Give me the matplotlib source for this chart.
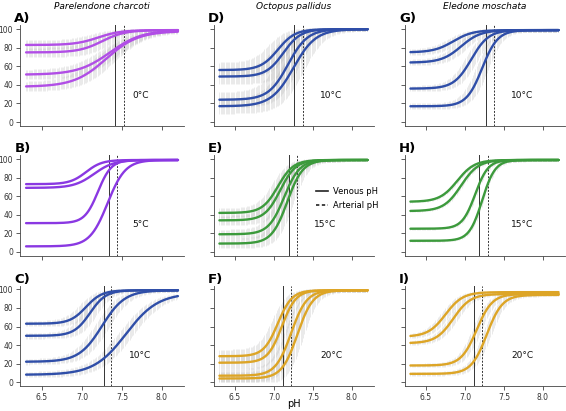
import numpy as np
import matplotlib
matplotlib.use("Agg")
import matplotlib.pyplot as plt
from matplotlib.lines import Line2D

# layout: columns = species, rows = temperatures
species = ["Parelendone charcoti", "Octopus pallidus", "Eledone moschata"]
letters = [["A", "B", "C"], ["D", "E", "F"], ["G", "H", "I"]]
temps = [["0°C", "5°C", "10°C"], ["10°C", "15°C", "20°C"], ["10°C", "15°C", "20°C"]]
venous_ph = [[7.41, 7.34, 7.275], [7.26, 7.19, 7.11], [7.27, 7.18, 7.11]]
arterial_ph = [[7.52, 7.44, 7.36], [7.375, 7.30, 7.22], [7.375, 7.295, 7.22]]

colors = {"A": "#B14EE6", "B": "#8A38E2", "C": "#2F4EA8",
          "D": "#2F4EA8", "E": "#3C9A3C", "F": "#DDA526",
          "G": "#2F4EA8", "H": "#3C9A3C", "I": "#DDA526"}

# fitted curve parameters (4 curves per panel)
low = {"A": [83, 75, 51, 38], "B": [73, 69, 31, 6], "C": [63, 50, 22, 8],
       "D": [56, 49, 24, 17], "E": [42, 34, 19, 9], "F": [28, 21, 7, 4],
       "G": [75, 64, 36, 17], "H": [54, 44, 25, 12], "I": [49, 42, 18, 9]}
mid = {"A": [7.2, 7.25, 7.35, 7.3], "B": [7.05, 7.15, 7.2, 7.32],
       "C": [7.05, 7.1, 7.25, 7.55], "D": [7.05, 7.12, 7.18, 7.25],
       "E": [7.05, 7.08, 7.13, 7.17], "F": [7.05, 7.1, 7.22, 7.3],
       "G": [6.85, 6.95, 7.08, 7.22], "H": [6.9, 6.95, 7.13, 7.22],
       "I": [6.75, 6.85, 7.15, 7.28]}
slope = {"A": [7, 7, 5, 5], "B": [10, 8, 12, 9], "C": [10, 10, 7, 5],
         "D": [9, 9, 8, 7], "E": [10, 10, 10, 10], "F": [11, 11, 10, 10],
         "G": [8, 8, 9, 10], "H": [9, 9, 12, 12], "I": [9, 9, 10, 10]}
top = {"A": [99, 99, 99, 98], "B": [99, 99, 99, 99], "C": [99, 99, 99, 96],
       "D": [100, 100, 100, 100], "E": [99, 99, 99, 99], "F": [99, 99, 99, 99],
       "G": [99, 99, 99, 99], "H": [99, 99, 99, 99], "I": [97, 95, 95, 94]}
# width of the grey uncertainty bands (pH shift, % at baseline)
band_shift = {"A": 0.1, "B": 0.0, "C": 0.08, "D": 0.12, "E": 0.07,
              "F": 0.07, "G": 0.07, "H": 0.015, "I": 0.05}
band_low = {"A": 5, "B": 0, "C": 3, "D": 8, "E": 5, "F": 7, "G": 3, "H": 1, "I": 2}


def sigmoid(x, lo, m, k, hi):
    return lo + (hi - lo) / (1 + np.exp(-k * (x - m)))


ph = np.linspace(6.3, 8.2, 300)
band_ph = np.arange(6.3, 8.2001, 0.016)

fig = plt.figure(figsize=(5.66, 4.11), dpi=100)
lefts = [20 / 566, 213.5 / 566, 404.5 / 566]
widths = [164 / 566, 160 / 566, 160 / 566]
bottoms = [0.694, 0.378, 0.061]
height = 0.244

for c in range(3):
    for r in range(3):
        L = letters[c][r]
        ax = fig.add_axes([lefts[c], bottoms[r], widths[c], height])
        col = colors[L]
        for i in range(4):
            lo, m, k, hi = low[L][i], mid[L][i], slope[L][i], top[L][i]
            if band_shift[L] > 0:
                y1 = sigmoid(band_ph, lo - band_low[L], m + band_shift[L], k, hi - 1.5)
                y2 = np.minimum(sigmoid(band_ph, lo + band_low[L], m - band_shift[L], k, hi + 1.5), 101)
                ax.vlines(band_ph, np.maximum(y1, 0), y2, color="#b0b0b0",
                          lw=0.6, alpha=0.3, zorder=1)
            ax.plot(ph, sigmoid(ph, lo, m, k, hi), color=col, lw=1.7,
                    solid_capstyle="round", zorder=3)
        ax.axvline(venous_ph[c][r], color="#333333", lw=0.7, zorder=2)
        ax.axvline(arterial_ph[c][r], color="#333333", lw=0.7, ls=(0, (2, 1.5)), zorder=2)

        tx = 7.65 if L == "E" else 7.73
        ax.text(tx, 29, temps[c][r], fontsize=6.5, ha="center", va="center", color="#111111")

        ax.set_xlim(6.224, 8.276)
        ax.set_ylim(-4, 104)
        ax.set_xticks([6.5, 7.0, 7.5, 8.0])
        ax.set_yticks([0, 20, 40, 60, 80, 100])
        ax.tick_params(length=3, width=0.6, color="#444444", labelsize=5.5,
                       labelcolor="#333333", pad=2)
        if r < 2:
            ax.set_xticklabels([])
        if c > 0:
            ax.set_yticklabels([])
        for s in ["top", "right"]:
            ax.spines[s].set_visible(False)
        for s in ["left", "bottom"]:
            ax.spines[s].set_linewidth(0.6)
            ax.spines[s].set_color("#444444")

        ax.text(-0.035, 1.065, L + ")", transform=ax.transAxes, fontsize=9.5,
                fontweight="bold", ha="left", va="center")
        if r == 0:
            ax.text(0.5, 1.19, species[c], transform=ax.transAxes, fontsize=6.5,
                    style="italic", ha="center", va="center")
        if L == "E":
            handles = [Line2D([], [], color="#222222", lw=1.2),
                       Line2D([], [], color="#222222", lw=1.2, ls=(0, (2, 1.5)))]
            ax.legend(handles, ["Venous pH", "Arterial pH"], loc="center left",
                      bbox_to_anchor=(0.64, 0.57), frameon=False, fontsize=6,
                      handlelength=1.5, handletextpad=0.5, borderpad=0,
                      borderaxespad=0, labelspacing=0.6)

fig.text(lefts[1] + widths[1] / 2, 1 - 404 / 411, "pH", fontsize=7,
         ha="center", va="center")

fig.savefig("out.png", dpi=100)
